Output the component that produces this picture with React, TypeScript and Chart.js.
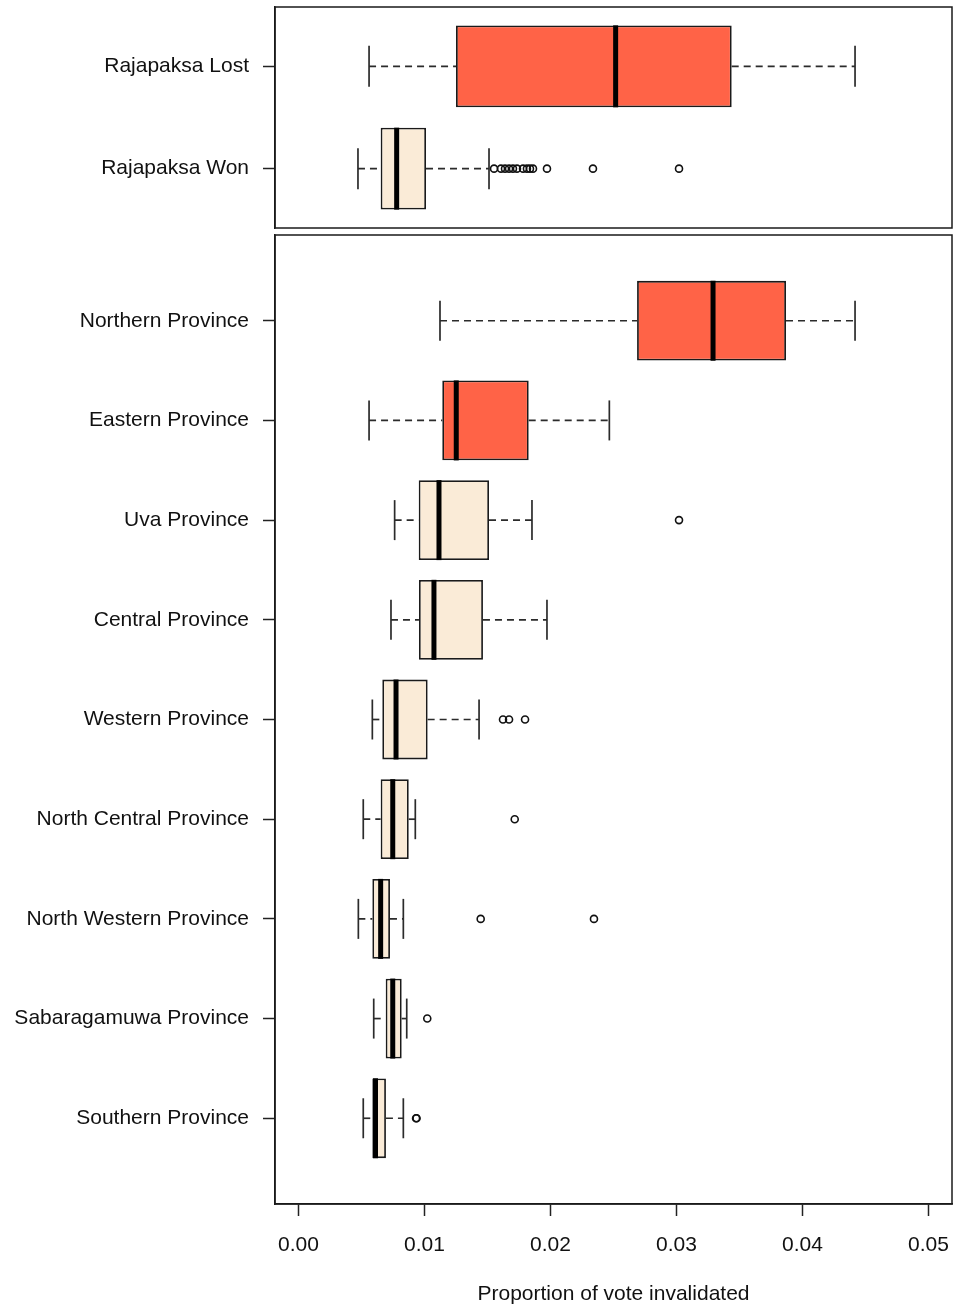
import React, { useEffect, useRef } from 'react';
import { Chart, registerables } from 'chart.js';

Chart.register(...registerables);

// ---------- data ----------
const topGroups = ['Rajapaksa Lost', 'Rajapaksa Won'];
const topLow = [0.0056, 0.00472];
const topQ1 = [0.0125, 0.00652];
const topMedian = [0.02517, 0.00779];
const topQ3 = [0.03438, 0.01012];
const topHigh = [0.04417, 0.01512];
const topOutliers = [
  [],
  [0.01552, 0.01607, 0.01639, 0.01671, 0.01702, 0.01734, 0.01782, 0.01813, 0.01837, 0.01861, 0.01972, 0.02337, 0.0302],
];
const topColors = ['#FF6347', '#FAEBD7'];

const provinces = [
  'Northern Province',
  'Eastern Province',
  'Uva Province',
  'Central Province',
  'Western Province',
  'North Central Province',
  'North Western Province',
  'Sabaragamuwa Province',
  'Southern Province',
];
const provLow = [0.01123, 0.0056, 0.00763, 0.00734, 0.00586, 0.00514, 0.00475, 0.00597, 0.00514];
const provQ1 = [0.02687, 0.01141, 0.00954, 0.00956, 0.00665, 0.00652, 0.00586, 0.00692, 0.00586];
const provMedian = [0.0329, 0.01252, 0.01115, 0.01075, 0.00774, 0.00748, 0.00652, 0.00748, 0.00611];
const provQ3 = [0.03869, 0.01827, 0.01512, 0.01464, 0.01025, 0.00875, 0.00726, 0.00819, 0.00694];
const provHigh = [0.04417, 0.02467, 0.01853, 0.01972, 0.01433, 0.00927, 0.00832, 0.00859, 0.00832];
const provOutliers = [
  [],
  [],
  [0.0302],
  [],
  [0.01623, 0.01671, 0.01798],
  [0.01716],
  [0.01446, 0.02345],
  [0.01022],
  [0.00933, 0.00937],
];
const provColors = ['#FF6347', '#FF6347', '#FAEBD7', '#FAEBD7', '#FAEBD7', '#FAEBD7', '#FAEBD7', '#FAEBD7', '#FAEBD7'];

const xTicks = [0, 0.01, 0.02, 0.03, 0.04, 0.05];
const xTickLabels = ['0.00', '0.01', '0.02', '0.03', '0.04', '0.05'];
const xTitle = 'Proportion of vote invalidated';
const xMin = -0.001865;
const xMax = 0.051865;

// ---------- styling ----------
const FONT = "'Liberation Sans', Arial, Helvetica, sans-serif";
const INK = '#1a1a1a';
const TEXT = '#111';
Chart.defaults.font.family = FONT;

const framePlugin = {
  id: 'frame',
  afterDatasetsDraw(chart: any) {
    const { ctx, chartArea: a } = chart;
    ctx.save();
    ctx.strokeStyle = INK;
    ctx.lineWidth = 1.5;
    ctx.strokeRect(a.left, a.top, a.right - a.left, a.bottom - a.top);
    ctx.restore();
  },
};

interface PanelSpec {
  groups: string[];
  low: number[];
  q1: number[];
  median: number[];
  q3: number[];
  high: number[];
  outliers: number[][];
  colors: string[];
  yMin: number;
  yMax: number;
  boxRadius: number;
  capRadius: number;
  padding: any;
  showX: boolean;
}

function buildConfig(p: PanelSpec): any {
  const n = p.groups.length;
  const pos = p.groups.map((_, i) => n - i);
  const datasets: any[] = [];
  pos.forEach((y, i) => {
    const whisker = {
      type: 'line',
      borderColor: '#2b2b2b',
      borderWidth: 1.7,
      borderDash: [7, 5],
      pointRadius: 0,
      fill: false,
      order: 5,
    };
    datasets.push({ ...whisker, data: [{ x: p.low[i], y }, { x: p.q1[i], y }] });
    datasets.push({ ...whisker, data: [{ x: p.q3[i], y }, { x: p.high[i], y }] });
  });
  datasets.push({
    type: 'bar',
    data: pos.map((y, i) => ({ x: [p.q1[i], p.q3[i]], y })),
    backgroundColor: p.colors,
    borderColor: INK,
    borderWidth: 1.8,
    borderSkipped: false,
    barPercentage: 0.8,
    categoryPercentage: 1,
    order: 4,
  });
  datasets.push({
    type: 'scatter',
    data: pos.flatMap((y, i) => [{ x: p.low[i], y }, { x: p.high[i], y }]),
    pointStyle: 'line',
    pointRotation: 90,
    pointRadius: p.capRadius,
    pointBorderWidth: 1.7,
    pointBorderColor: '#2b2b2b',
    order: 3,
  });
  datasets.push({
    type: 'scatter',
    data: pos.map((y, i) => ({ x: p.median[i], y })),
    pointStyle: 'line',
    pointRotation: 90,
    pointRadius: p.boxRadius,
    pointBorderWidth: 5,
    pointBorderColor: '#000',
    order: 2,
  });
  datasets.push({
    type: 'scatter',
    data: pos.flatMap((y, i) => p.outliers[i].map((x) => ({ x, y }))),
    pointStyle: 'circle',
    pointRadius: 3.5,
    pointBorderWidth: 1.6,
    pointBorderColor: '#111',
    pointBackgroundColor: 'rgba(0,0,0,0)',
    order: 1,
  });

  const tickFont = { family: FONT, size: 21 };
  return {
    type: 'bar',
    data: { datasets },
    plugins: [framePlugin],
    options: {
      indexAxis: 'y',
      animation: false,
      responsive: false,
      events: [],
      layout: { padding: p.padding, autoPadding: false },
      plugins: { legend: { display: false }, tooltip: { enabled: false } },
      scales: {
        x: {
          type: 'linear',
          min: xMin,
          max: xMax,
          offset: false,
          display: p.showX,
          afterBuildTicks: (s: any) => {
            s.ticks = xTicks.map((v) => ({ value: v }));
          },
          ticks: {
            callback: (_v: any, i: number) => xTickLabels[i],
            font: tickFont,
            color: TEXT,
            padding: 17,
            maxRotation: 0,
            autoSkip: false,
          },
          grid: { offset: false, drawOnChartArea: false, drawTicks: true, tickLength: 12, tickColor: '#222', tickWidth: 1.5 },
          border: { display: true, color: INK, width: 1.5 },
          title: {
            display: true,
            text: xTitle,
            font: tickFont,
            color: TEXT,
            padding: { top: 0, bottom: 3 },
          },
          afterFit: (s: any) => {
            if (p.showX) s.height = 106;
            s.paddingLeft = 0;
            s.paddingRight = 0;
          },
        },
        y: {
          type: 'linear',
          min: p.yMin,
          max: p.yMax,
          offset: false,
          afterBuildTicks: (s: any) => {
            s.ticks = pos.slice().sort((a, b) => a - b).map((v) => ({ value: v }));
          },
          ticks: {
            callback: (v: any) => p.groups[n - Math.round(Number(v))],
            font: tickFont,
            color: TEXT,
            padding: 14,
            autoSkip: false,
          },
          grid: { offset: false, drawOnChartArea: false, drawTicks: true, tickLength: 12, tickColor: '#222', tickWidth: 1.5 },
          border: { display: true, color: INK, width: 1.5 },
          afterFit: (s: any) => {
            s.width = 275;
            s.paddingTop = 0;
            s.paddingBottom = 0;
          },
        },
      },
    },
  };
}

export default function App() {
  const topRef = useRef<HTMLCanvasElement>(null);
  const botRef = useRef<HTMLCanvasElement>(null);

  useEffect(() => {
    const c1 = new Chart(
      topRef.current as HTMLCanvasElement,
      buildConfig({
        groups: topGroups,
        low: topLow,
        q1: topQ1,
        median: topMedian,
        q3: topQ3,
        high: topHigh,
        outliers: topOutliers,
        colors: topColors,
        yMin: 0.42,
        yMax: 2.58,
        boxRadius: 41,
        capRadius: 20.5,
        padding: { top: 7, bottom: 4, left: 0, right: 2 },
        showX: false,
      })
    );
    const c2 = new Chart(
      botRef.current as HTMLCanvasElement,
      buildConfig({
        groups: provinces,
        low: provLow,
        q1: provQ1,
        median: provMedian,
        q3: provQ3,
        high: provHigh,
        outliers: provOutliers,
        colors: provColors,
        yMin: 0.14,
        yMax: 9.86,
        boxRadius: 40,
        capRadius: 20,
        padding: { top: 5, bottom: 0, left: 0, right: 2 },
        showX: true,
      })
    );
    return () => {
      c1.destroy();
      c2.destroy();
    };
  }, []);

  return (
    <div style={{ position: 'absolute', left: 0, top: 0, width: 954, height: 1310, background: '#fff' }}>
      <canvas
        ref={topRef}
        width={954}
        height={232}
        style={{ position: 'absolute', left: 0, top: 0, width: 954, height: 232 }}
      />
      <canvas
        ref={botRef}
        width={954}
        height={1080}
        style={{ position: 'absolute', left: 0, top: 230, width: 954, height: 1080 }}
      />
    </div>
  );
}
